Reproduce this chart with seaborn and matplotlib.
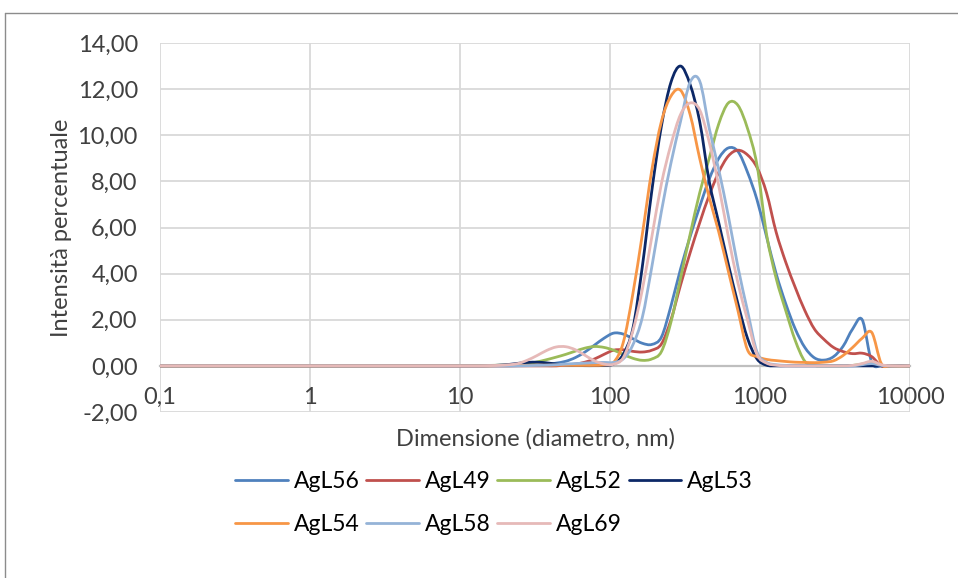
# %%
import numpy as np
import pandas as pd
import seaborn as sns
import matplotlib.pyplot as plt
from matplotlib.lines import Line2D
from matplotlib.path import Path
from matplotlib.patches import PathPatch

# %%
# diametro (nm), classi di dimensione
sizes = [0.1, 1, 10.1, 11.7, 13.54, 15.69, 18.17, 21.04, 24.36, 28.21, 32.67, 37.84,
         43.82, 50.75, 58.77, 68.06, 78.82, 91.28, 105.7, 122.4, 141.8, 164.2, 190.1,
         220.2, 255.0, 295.3, 342.0, 396.1, 458.7, 531.2, 615.1, 712.4, 825.0, 955.4,
         1106, 1281, 1484, 1718, 1990, 2305, 2669, 3091, 3580, 4145, 4801, 5560, 6439,
         7456, 10000]

agl56 = [0, 0,
         0, 0, 0, 0, 0, 0, 0.01, 0.02, 0.03, 0.06, 0.12, 0.2, 0.36, 0.6, 0.9, 1.2,
         1.42, 1.38, 1.18, 0.98, 0.93, 1.25, 2.6, 4.2, 5.6, 6.9,
         8.1, 9.0, 9.45, 9.3, 8.4, 7.2,
         5.6, 4.0, 2.7, 1.6, 0.8, 0.35, 0.25, 0.4, 0.85, 1.6, 2.0, 0.15, 0, 0,
         0]
agl49 = [0, 0,
         0, 0, 0, 0, 0, 0, 0, 0, 0, 0, 0, 0.04, 0.08, 0.16, 0.3, 0.5,
         0.68, 0.7, 0.63, 0.6, 0.68, 0.95, 2.0, 3.5, 4.9, 6.2,
         7.4, 8.4, 9.1, 9.35, 9.15, 8.6,
         7.5, 5.8, 4.5, 3.4, 2.4, 1.6, 1.15, 0.8, 0.62, 0.53, 0.55, 0.4, 0, 0,
         0]
agl52 = [0, 0,
         0.01, 0.01, 0.02, 0.02, 0.03, 0.04, 0.06, 0.1, 0.17, 0.27, 0.38, 0.5, 0.64, 0.77, 0.84, 0.8,
         0.68, 0.5, 0.33, 0.24, 0.3, 0.62, 1.9, 3.8, 5.7, 7.5,
         9.0, 10.5, 11.4, 11.3, 10.3, 8.7,
         5.7, 3.8, 2.4, 1.1, 0.2, 0.02, 0, 0, 0, 0.02, 0.08, 0.15, 0.02, 0,
         0]
agl53 = [0, 0,
         0, 0, 0, 0.01, 0.03, 0.06, 0.11, 0.15, 0.16, 0.13, 0.08, 0.04, 0.02, 0.01, 0.01, 0.02,
         0.08, 0.5, 1.6, 4.3, 7.6, 10.4, 12.3, 13.0, 12.2, 10.6,
         8.0, 6.2, 4.4, 2.7, 1.2, 0.3,
         0.03, 0, 0, 0, 0, 0, 0, 0, 0, 0, 0, 0, 0, 0,
         0]
agl54 = [0, 0,
         0, 0, 0, 0, 0.01, 0.01, 0.02, 0.02, 0.03, 0.03, 0.03, 0.03, 0.02, 0.02, 0.02, 0.04,
         0.15, 1.0, 3.1, 5.7, 8.5, 10.6, 11.7, 11.95, 10.9, 9.0,
         7.3, 5.8, 4.1, 2.4, 0.7, 0.4,
         0.28, 0.23, 0.19, 0.16, 0.15, 0.14, 0.16, 0.22, 0.45, 0.8, 1.2, 1.45, 0.1, 0,
         0]
agl58 = [0, 0,
         0, 0, 0, 0, 0, 0, 0, 0.01, 0.02, 0.03, 0.05, 0.08, 0.1, 0.12, 0.14, 0.15,
         0.15, 0.3, 0.9, 2.1, 4.3, 6.7, 8.8, 10.6, 12.3, 12.35,
         10.3, 8.5, 6.5, 4.3, 2.4, 0.6,
         0.15, 0.05, 0.02, 0, 0, 0, 0, 0, 0, 0, 0.05, 0.1, 0.02, 0,
         0]
agl69 = [0, 0,
         0, 0, 0, 0.01, 0.02, 0.05, 0.1, 0.25, 0.45, 0.67, 0.82, 0.83, 0.7, 0.46, 0.22, 0.08,
         0.07, 0.35, 1.5, 3.3, 5.6, 7.9, 9.6, 10.9, 11.4, 11.1,
         9.7, 7.8, 5.6, 3.6, 2.0, 0.5,
         0.12, 0.03, 0, 0, 0, 0, 0, 0, 0, 0.02, 0.1, 0.2, 0.05, 0,
         0]

series = {"AgL56": agl56, "AgL49": agl49, "AgL52": agl52, "AgL53": agl53,
          "AgL54": agl54, "AgL58": agl58, "AgL69": agl69}
colors = ["#4F81BD", "#C0504D", "#9BBB59", "#0C2867", "#F79646", "#95B3D7", "#E6B9B8"]

xticks = [0.1, 1, 10, 100, 1000, 10000]
xtick_labels = ["0,1", "1", "10", "100", "1000", "10000"]
yticks = [-2, 0, 2, 4, 6, 8, 10, 12, 14]

df = pd.concat([pd.DataFrame({"diametro": sizes, "intensita": v, "campione": k})
                for k, v in series.items()], ignore_index=True)


# linea "smussata" come in Excel: bezier tra i punti (in scala log)
def smooth_path(x, y):
    u = np.log10(np.asarray(x, float))
    y = np.asarray(y, float)
    p = np.column_stack([u, y])
    n = len(p)
    verts = [p[0]]
    codes = [Path.MOVETO]
    for i in range(n - 1):
        p0 = p[i - 1] if i > 0 else p[i]
        p1, p2 = p[i], p[i + 1]
        p3 = p[i + 2] if i + 2 < n else p[i + 1]
        c1 = p1 + (p2 - p0) / 6
        c2 = p2 - (p3 - p1) / 6
        # evita anelli dove il passo cambia molto
        c1[0] = np.clip(c1[0], p1[0], p2[0])
        c2[0] = np.clip(c2[0], p1[0], p2[0])
        verts += [c1, c2, p2]
        codes += [Path.CURVE4] * 3
    verts = np.array(verts)
    verts[:, 0] = 10 ** verts[:, 0]
    return Path(verts, codes)


# %%
sns.set_style("white")
plt.rcParams["font.family"] = ["Lato", "DejaVu Sans"]
txt = "#404040"
fs = 17

fig = plt.figure(figsize=(9.58, 5.78), dpi=100)
ax = fig.add_axes([160 / 958, 1 - 412 / 578, 750 / 958, 369 / 578])

sns.lineplot(data=df, x="diametro", y="intensita", hue="campione",
             palette=colors, sort=False, estimator=None, lw=2.0, ax=ax, legend=False)
ax.set_xscale("log")
# sostituisco i segmenti con la curva smussata
for line in list(ax.lines):
    xd, yd = line.get_xdata(), line.get_ydata()
    ax.add_patch(PathPatch(smooth_path(xd, yd), fill=False, edgecolor=line.get_color(),
                           lw=2.0, zorder=3, capstyle="round", joinstyle="round"))
    line.set_visible(False)

ax.set_xlim(0.1, 10000)
ax.set_ylim(-2, 14)
ax.set_xticks(xticks)
ax.set_xticklabels(xtick_labels)
ax.minorticks_off()
ax.set_yticks(yticks)
ax.set_yticklabels([f"{v:.2f}".replace(".", ",") for v in yticks])
ax.tick_params(length=0, labelsize=fs, colors=txt)
ax.tick_params(axis="x", pad=15)
ax.tick_params(axis="y", pad=16)
ax.grid(True, color="#d9d9d9", lw=1.3)
for s in ["top", "right", "left"]:
    ax.spines[s].set_visible(False)
ax.spines["bottom"].set_position(("data", 0))
ax.spines["bottom"].set_color("#bfbfbf")
ax.spines["bottom"].set_linewidth(1.6)
ax.spines["bottom"].set_zorder(2.5)

ax.set_xlabel("Dimensione (diametro, nm)", fontsize=fs, color=txt)
ax.set_ylabel("Intensità percentuale", fontsize=fs, color=txt)
ax.xaxis.set_label_coords(0.5, -0.043)
ax.yaxis.set_label_coords(-0.117, 0.5)

# legenda: due righe, ordine per righe
names = list(series)
handles = [Line2D([], [], color=c, lw=2.0) for c in colors]
order = [0, 4, 1, 5, 2, 6, 3]
ax.legend([handles[i] for i in order], [names[i] for i in order], ncol=4,
          loc="center", bbox_to_anchor=(494 / 958, 1 - 503 / 578),
          bbox_transform=fig.transFigure, frameon=False, fontsize=16.5,
          handlelength=2.3, handletextpad=0.25, columnspacing=0.3,
          labelspacing=0.95, labelcolor="black")

# bordo area grafico
fig.add_artist(Line2D([5 / 958, 5 / 958], [0, 1 - 13 / 578], transform=fig.transFigure,
                      color="#8c8c8c", lw=1))
fig.add_artist(Line2D([5 / 958, 1], [1 - 13 / 578, 1 - 13 / 578], transform=fig.transFigure,
                      color="#8c8c8c", lw=1))

plt.savefig("out.png", dpi=100)
